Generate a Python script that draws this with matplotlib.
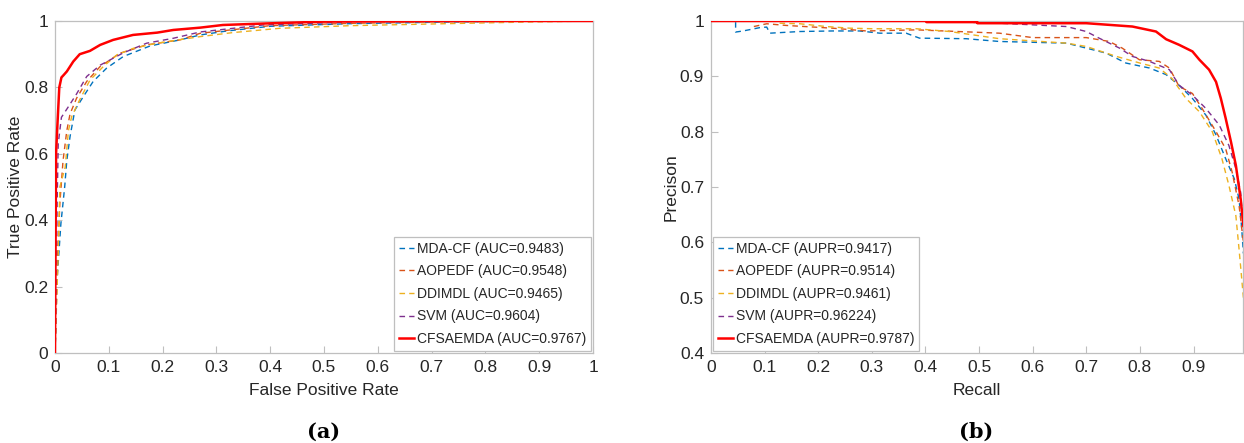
import numpy as np
import matplotlib
matplotlib.use('Agg')
import matplotlib.pyplot as plt

plt.rcParams['font.family'] = ['Liberation Sans', 'DejaVu Sans']

# ROC curves (a)
roc_mdacf_x = [0, 0.002, 0.003, 0.011, 0.018, 0.022, 0.028, 0.037, 0.053, 0.071, 0.096, 0.127, 0.177, 0.232, 0.27, 0.32, 0.4, 0.55, 0.7, 0.85, 1.0]
roc_mdacf_y = [0, 0.1, 0.2, 0.39, 0.5, 0.58, 0.652, 0.732, 0.773, 0.818, 0.858, 0.893, 0.925, 0.943, 0.958, 0.97, 0.984, 0.992, 0.996, 0.999, 1.0]
roc_aopedf_x = [0, 0.002, 0.004, 0.009, 0.015, 0.022, 0.028, 0.04, 0.059, 0.084, 0.121, 0.17, 0.232, 0.27, 0.32, 0.4, 0.55, 0.7, 0.85, 1.0]
roc_aopedf_y = [0, 0.1, 0.25, 0.45, 0.58, 0.67, 0.72, 0.767, 0.818, 0.863, 0.903, 0.928, 0.943, 0.963, 0.972, 0.986, 0.993, 0.997, 0.999, 1.0]
roc_ddimdl_x = [0, 0.002, 0.006, 0.009, 0.019, 0.025, 0.031, 0.046, 0.065, 0.09, 0.115, 0.146, 0.189, 0.27, 0.33, 0.418, 0.55, 0.7, 0.85, 1.0]
roc_ddimdl_y = [0, 0.1, 0.3, 0.5, 0.56, 0.67, 0.712, 0.763, 0.822, 0.863, 0.898, 0.918, 0.933, 0.953, 0.965, 0.978, 0.986, 0.991, 0.996, 1.0]
roc_svm_x = [0, 0.002, 0.004, 0.006, 0.012, 0.025, 0.04, 0.059, 0.084, 0.127, 0.17, 0.22, 0.27, 0.32, 0.387, 0.572, 0.75, 1.0]
roc_svm_y = [0, 0.15, 0.45, 0.63, 0.71, 0.742, 0.78, 0.833, 0.867, 0.904, 0.933, 0.948, 0.967, 0.976, 0.988, 0.998, 0.999, 1.0]
roc_cfsa_x = [0, 0.002, 0.004, 0.008, 0.012, 0.016, 0.022, 0.034, 0.046, 0.065, 0.084, 0.108, 0.145, 0.19, 0.22, 0.27, 0.312, 0.4, 0.498, 0.7, 1.0]
roc_cfsa_y = [0, 0.6, 0.67, 0.8, 0.83, 0.837, 0.848, 0.878, 0.9, 0.91, 0.928, 0.943, 0.958, 0.965, 0.973, 0.98, 0.988, 0.993, 0.998, 1.0, 1.0]

# PR curves (b)
pr_mdacf_x = [0.046, 0.046, 0.06, 0.091, 0.104, 0.11, 0.166, 0.227, 0.277, 0.315, 0.364, 0.389, 0.476, 0.538, 0.663, 0.70, 0.737, 0.774, 0.818, 0.849, 0.873, 0.898, 0.923, 0.942, 0.96, 0.976, 0.985, 0.99, 0.993]
pr_mdacf_y = [0.998, 0.98, 0.982, 0.988, 0.989, 0.978, 0.981, 0.982, 0.982, 0.978, 0.978, 0.969, 0.968, 0.963, 0.96, 0.951, 0.942, 0.924, 0.915, 0.903, 0.884, 0.86, 0.83, 0.794, 0.751, 0.715, 0.678, 0.624, 0.58]
pr_aopedf_x = [0.08, 0.104, 0.14, 0.227, 0.29, 0.383, 0.538, 0.60, 0.70, 0.743, 0.767, 0.799, 0.836, 0.855, 0.873, 0.898, 0.916, 0.942, 0.96, 0.972, 0.985, 0.993]
pr_aopedf_y = [0.99, 0.995, 0.992, 0.987, 0.982, 0.984, 0.978, 0.97, 0.97, 0.963, 0.951, 0.93, 0.927, 0.915, 0.882, 0.869, 0.842, 0.80, 0.769, 0.727, 0.666, 0.6]
pr_ddimdl_x = [0.128, 0.166, 0.215, 0.259, 0.302, 0.383, 0.445, 0.538, 0.663, 0.70, 0.756, 0.80, 0.836, 0.86, 0.886, 0.911, 0.935, 0.953, 0.966, 0.979, 0.985, 0.99, 0.993]
pr_ddimdl_y = [0.996, 0.995, 0.99, 0.987, 0.986, 0.986, 0.981, 0.968, 0.96, 0.954, 0.936, 0.924, 0.915, 0.896, 0.86, 0.836, 0.80, 0.751, 0.703, 0.648, 0.587, 0.533, 0.5]
pr_svm_x = [0.0, 0.4, 0.538, 0.663, 0.70, 0.724, 0.762, 0.786, 0.818, 0.855, 0.873, 0.898, 0.923, 0.948, 0.966, 0.979, 0.988, 0.993]
pr_svm_y = [1.0, 1.0, 0.996, 0.99, 0.981, 0.969, 0.951, 0.936, 0.927, 0.912, 0.884, 0.866, 0.842, 0.812, 0.775, 0.733, 0.69, 0.62]
pr_cfsa_x = [0.0, 0.402, 0.402, 0.497, 0.497, 0.70, 0.786, 0.83, 0.849, 0.873, 0.898, 0.911, 0.929, 0.942, 0.951, 0.96, 0.97, 0.979, 0.988, 0.993]
pr_cfsa_y = [1.0, 1.0, 0.998, 0.998, 0.996, 0.996, 0.99, 0.981, 0.967, 0.957, 0.945, 0.93, 0.912, 0.89, 0.86, 0.824, 0.781, 0.739, 0.678, 0.63]

roc_labels = ['MDA-CF (AUC=0.9483)', 'AOPEDF (AUC=0.9548)', 'DDIMDL (AUC=0.9465)',
              'SVM (AUC=0.9604)', 'CFSAEMDA (AUC=0.9767)']
pr_labels = ['MDA-CF (AUPR=0.9417)', 'AOPEDF (AUPR=0.9514)', 'DDIMDL (AUPR=0.9461)',
             'SVM (AUPR=0.96224)', 'CFSAEMDA (AUPR=0.9787)']
colors = ['#0072BD', '#D95319', '#EDB120', '#7E2F8E', '#FF0000']

roc_data = [(roc_mdacf_x, roc_mdacf_y), (roc_aopedf_x, roc_aopedf_y), (roc_ddimdl_x, roc_ddimdl_y),
            (roc_svm_x, roc_svm_y), (roc_cfsa_x, roc_cfsa_y)]
pr_data = [(pr_mdacf_x, pr_mdacf_y), (pr_aopedf_x, pr_aopedf_y), (pr_ddimdl_x, pr_ddimdl_y),
           (pr_svm_x, pr_svm_y), (pr_cfsa_x, pr_cfsa_y)]

fig = plt.figure(figsize=(12.44, 4.43), dpi=100)
ax1 = fig.add_axes([0.0442, 0.2032, 0.4325, 0.7494])
ax2 = fig.add_axes([0.5715, 0.2032, 0.4280, 0.7494])


def draw(ax, data, labels):
    for i, (x, y) in enumerate(data):
        if i == 4:
            ax.plot(x, y, color=colors[i], lw=1.8, label=labels[i], zorder=5)
        else:
            ax.plot(x, y, color=colors[i], lw=1.0, dashes=(4, 3), label=labels[i])
    for s in ax.spines.values():
        s.set_color('#bfbfbf')
        s.set_linewidth(0.9)
    ax.tick_params(direction='in', length=5, color='#bfbfbf', labelcolor='#262626',
                   labelsize=12.5, pad=5)


def style_legend(ax, loc):
    leg = ax.legend(loc=loc, fontsize=10, frameon=True, fancybox=False,
                    edgecolor='#bfbfbf', framealpha=1, handlelength=1.1, handletextpad=0.2,
                    borderpad=0.35, labelspacing=0.62, borderaxespad=0.15)
    for t in leg.get_texts():
        t.set_color('#262626')
    leg.get_frame().set_linewidth(0.9)


draw(ax1, roc_data, roc_labels)
ax1.set_xlim(0, 1)
ax1.set_ylim(0, 1)
xt = np.round(np.arange(0, 1.01, 0.1), 1)
ax1.set_xticks(xt)
ax1.set_xticklabels(['0'] + ['%.1f' % v for v in xt[1:-1]] + ['1'])
yt = np.round(np.arange(0, 1.01, 0.2), 1)
ax1.set_yticks(yt)
ax1.set_yticklabels(['0'] + ['%.1f' % v for v in yt[1:-1]] + ['1'])
ax1.set_xlabel('False Positive Rate', fontsize=12.5, color='#262626', labelpad=6)
ax1.set_ylabel('True Positive Rate', fontsize=12.5, color='#262626', labelpad=1)
style_legend(ax1, 'lower right')

draw(ax2, pr_data, pr_labels)
ax2.set_xlim(0, 0.993)
ax2.set_ylim(0.4, 1)
xt2 = np.round(np.arange(0, 0.91, 0.1), 1)
ax2.set_xticks(xt2)
ax2.set_xticklabels(['0'] + ['%.1f' % v for v in xt2[1:]])
yt2 = np.round(np.arange(0.4, 1.01, 0.1), 1)
ax2.set_yticks(yt2)
ax2.set_yticklabels(['%.1f' % v for v in yt2[:-1]] + ['1'])
ax2.set_xlabel('Recall', fontsize=12.5, color='#262626', labelpad=6)
ax2.set_ylabel('Precison', fontsize=12.5, color='#262626', labelpad=1)
style_legend(ax2, 'lower left')

fig.text(0.26, 0.012, '(a)', fontsize=15, fontweight='bold', family='DejaVu Serif', ha='center')
fig.text(0.785, 0.012, '(b)', fontsize=15, fontweight='bold', family='DejaVu Serif', ha='center')

fig.savefig('out.png', dpi=100)
